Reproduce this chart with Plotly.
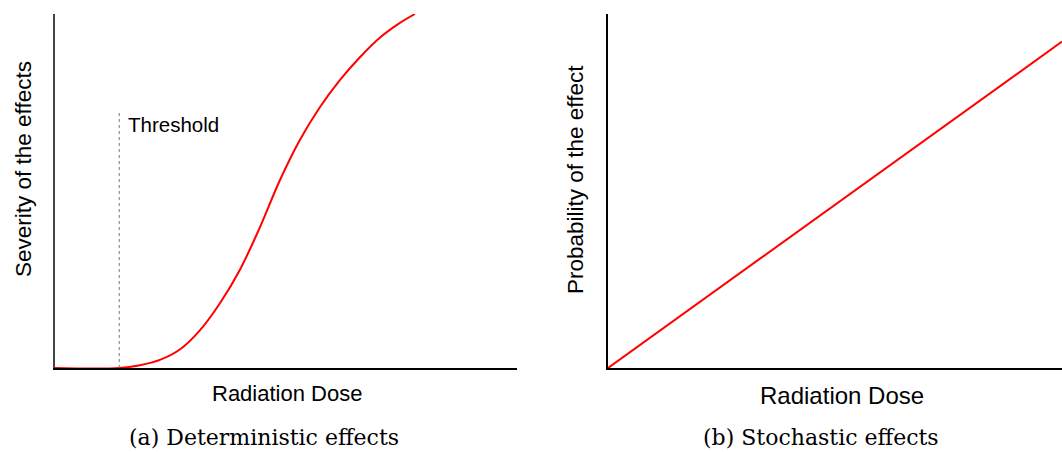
import plotly.graph_objects as go

# ---- data ----
dose_a = [0, 1.39, 1.84, 2.27, 2.71, 3.14, 3.57, 4.00, 4.42, 4.87, 5.30, 5.74, 6.17, 6.60, 7.03, 7.41, 7.79]
severity_a = [0, 0, 0.008, 0.023, 0.053, 0.107, 0.183, 0.277, 0.393, 0.531, 0.644, 0.738, 0.814, 0.878, 0.933, 0.970, 1.0]
threshold_dose = 1.39
threshold_top = 0.729

dose_b = [0, 10]
prob_b = [0, 0.922]

x_title = "Radiation Dose"
y_title_a = "Severity of the effects"
y_title_b = "Probability of the effect"
caption_a = "(a) Deterministic effects"
caption_b = "(b) Stochastic effects"
threshold_label = "Threshold"

W, H = 1062, 452
sans = "Liberation Sans, Arial, sans-serif"
serif = "DejaVu Serif, serif"

fig = go.Figure()

fig.add_trace(go.Scatter(x=dose_a, y=severity_a, mode="lines",
                         line=dict(color="#ff0000", width=2, shape="spline", smoothing=1.0),
                         xaxis="x", yaxis="y", showlegend=False, hoverinfo="skip", cliponaxis=True))
fig.add_trace(go.Scatter(x=[threshold_dose, threshold_dose], y=[0, threshold_top], mode="lines",
                         line=dict(color="#777777", width=1, dash="dot"),
                         xaxis="x", yaxis="y", showlegend=False, hoverinfo="skip"))
fig.add_trace(go.Scatter(x=dose_b, y=prob_b, mode="lines",
                         line=dict(color="#ff0000", width=2),
                         xaxis="x2", yaxis="y2", showlegend=False, hoverinfo="skip"))

def px(xp):
    return xp / W

def py(yp):
    return (H - yp) / H

ydom = [py(368), py(14)]
ax_common = dict(showgrid=False, zeroline=False, showticklabels=False, ticks="",
                 showline=True, linecolor="black", linewidth=1.5, mirror=False, fixedrange=True)

fig.update_layout(
    width=W, height=H,
    margin=dict(l=0, r=0, t=0, b=0),
    paper_bgcolor="white", plot_bgcolor="white",
    xaxis=dict(domain=[px(55), px(517)], range=[0, 10], anchor="y", **ax_common),
    yaxis=dict(domain=ydom, range=[0, 1], anchor="x", **{**ax_common, "linecolor": "#444444"}),
    xaxis2=dict(domain=[px(608), 1.0], range=[0, 10], anchor="y2", **ax_common),
    yaxis2=dict(domain=ydom, range=[0, 1], anchor="x2", **ax_common),
)

ann = []
ann.append(dict(x=threshold_dose, y=0.689, xref="x", yref="y", text=threshold_label,
                xanchor="left", yanchor="middle", xshift=7, showarrow=False,
                font=dict(family=sans, size=20.5, color="black")))
ann.append(dict(x=px(287), y=py(393), xref="paper", yref="paper", text=x_title,
                xanchor="center", yanchor="middle", showarrow=False,
                font=dict(family=sans, size=22, color="black")))
ann.append(dict(x=px(842), y=py(395), xref="paper", yref="paper", text=x_title,
                xanchor="center", yanchor="middle", showarrow=False,
                font=dict(family=sans, size=24, color="black")))
ann.append(dict(x=px(23), y=py(169), xref="paper", yref="paper", text=y_title_a,
                textangle=-90, xanchor="center", yanchor="middle", showarrow=False,
                font=dict(family=sans, size=22.5, color="black")))
ann.append(dict(x=px(576), y=py(180), xref="paper", yref="paper", text=y_title_b,
                textangle=-90, xanchor="center", yanchor="middle", showarrow=False,
                font=dict(family=sans, size=22.5, color="black")))
ann.append(dict(x=px(263.5), y=py(437), xref="paper", yref="paper", text=caption_a,
                xanchor="center", yanchor="middle", showarrow=False,
                font=dict(family=serif, size=22, color="black")))
ann.append(dict(x=px(820.5), y=py(437), xref="paper", yref="paper", text=caption_b,
                xanchor="center", yanchor="middle", showarrow=False,
                font=dict(family=serif, size=22, color="black")))
fig.update_layout(annotations=ann)

fig.write_html("out.html")
